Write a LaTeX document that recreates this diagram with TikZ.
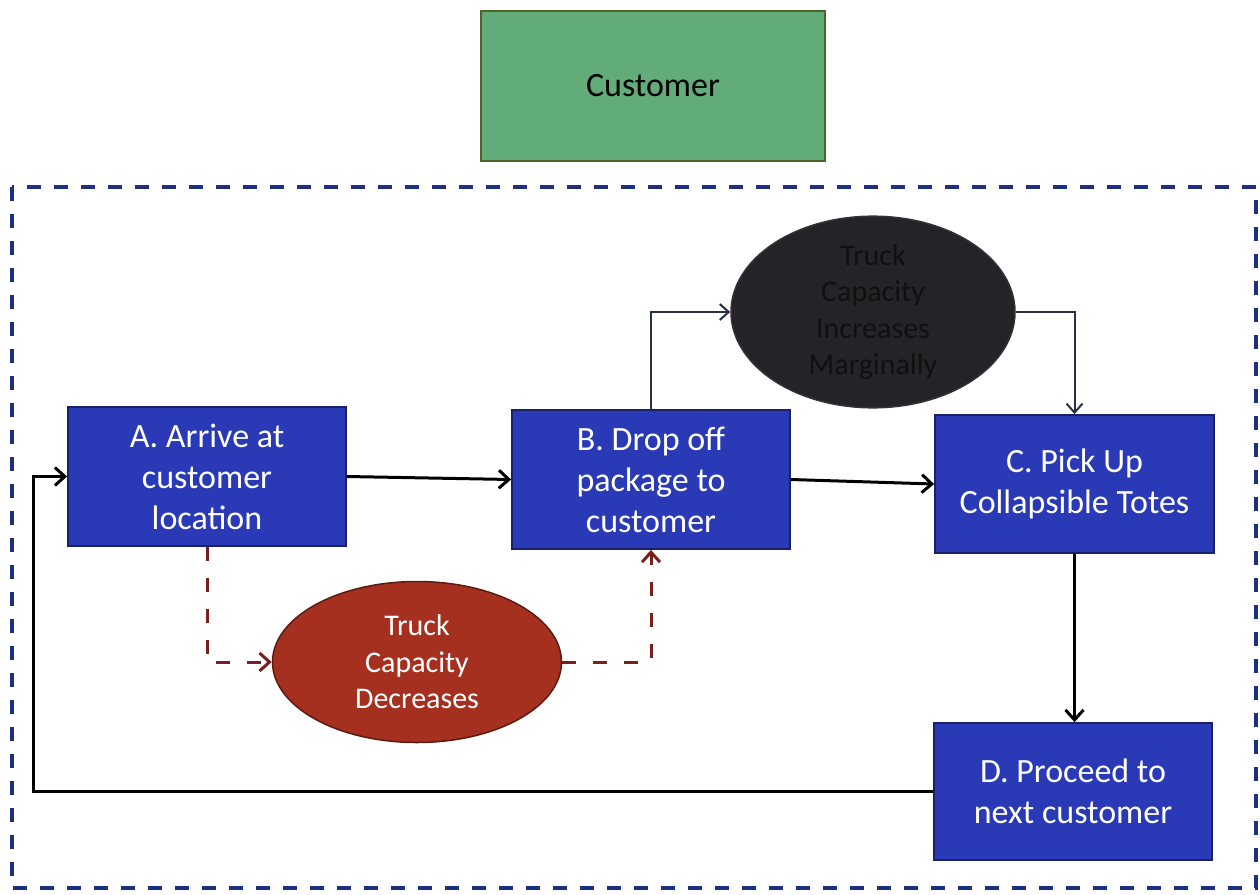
\documentclass[tikz,border=0pt]{standalone}
\usepackage{fontspec}
\setmainfont{Carlito}
\usetikzlibrary{shapes.geometric,arrows.meta}

\definecolor{custgreen}{RGB}{98,172,122}
\definecolor{custedge}{RGB}{78,100,40}
\definecolor{stepblue}{RGB}{42,58,182}
\definecolor{stepedge}{RGB}{24,34,100}
\definecolor{frameblue}{RGB}{30,46,128}
\definecolor{darkfill}{RGB}{36,36,40}
\definecolor{darktext}{RGB}{16,16,18}
\definecolor{redfill}{RGB}{166,48,32}
\definecolor{rededge}{RGB}{90,28,18}
\definecolor{redline}{RGB}{120,32,30}
\definecolor{thinline}{RGB}{40,48,70}

\tikzset{
  stepbox/.style={rectangle, draw=stepedge, line width=1.8pt, fill=stepblue,
    text=white, align=center, font=\fontsize{34}{41}\selectfont},
  oval/.style={ellipse, line width=1.5pt, align=center,
    font=\fontsize{30}{36.5}\selectfont, inner sep=0pt},
  flow/.style={line width=3pt, black, -{Straight Barb[length=10pt,width=18pt]}},
  thinflow/.style={line width=2pt, thinline, -{Straight Barb[length=9pt,width=16pt]}},
  redflow/.style={line width=3pt, redline, dash pattern=on 14pt off 17pt,
    -{Straight Barb[length=10pt,width=18pt]}},
}

\begin{document}
\begin{tikzpicture}[x=1pt, y=-1pt]
\useasboundingbox (0,0) rectangle (1260,894);

% customer box above the process frame
\node[rectangle, draw=custedge, line width=1.5pt, fill=custgreen,
      minimum width=344pt, minimum height=150pt,
      font=\fontsize{34}{41}\selectfont] (cust) at (653,86) {Customer};

% dashed frame around the process
\draw[frameblue, line width=3.5pt, dash pattern=on 14pt off 13pt]
  (12,187) rectangle (1256,888);

% process steps
\node[stepbox, minimum width=278pt, minimum height=139pt] (A) at (207,476.5)
  {A. Arrive at\\customer\\location};
\node[stepbox, minimum width=278pt, minimum height=139pt] (B) at (651,479.5)
  {B. Drop off\\package to\\customer};
\node[stepbox, minimum width=279pt, minimum height=138pt] (C) at (1074.5,484)
  {C. Pick Up\\Collapsible Totes};
\node[stepbox, minimum width=278pt, minimum height=137pt] (D) at (1073,791.5)
  {D. Proceed to\\next customer};

% capacity effects
\node[oval, draw=black!80, fill=darkfill, text=darktext,
      minimum width=284pt, minimum height=165pt] (up) at (873,312)
  {Truck\\Capacity\\Increases\\Marginally};
\node[oval, draw=rededge, fill=redfill, text=white,
      minimum width=289pt, minimum height=161pt] (down) at (417,662)
  {Truck\\Capacity\\Decreases};

% main flow
\draw[flow] (A.east) -- (B.west);
\draw[flow] (B.east) -- (C.west);
\draw[flow] (C.south) -- (C.south |- D.north);
\coordinate (loop) at (33,787);
\draw[flow] (D.west) -- (D.west -| loop) |- (A.west);

% capacity side paths
\draw[thinflow] (B.north) |- (up.west);
\draw[thinflow] (up.east) -| (C.north);
\draw[redflow] (A.south) |- (down.west);
\draw[redflow] (down.east) -| (B.south);
\end{tikzpicture}
\end{document}
